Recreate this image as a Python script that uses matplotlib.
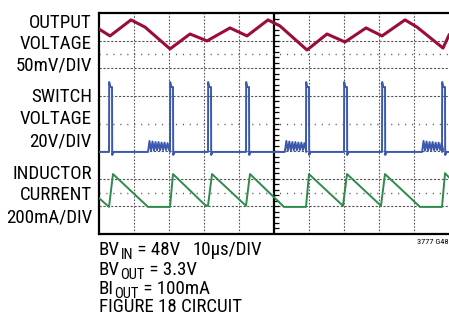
import numpy as np
import matplotlib.pyplot as plt

plt.rcParams['font.family'] = ['Roboto Condensed', 'DejaVu Sans']

# time in us (10us/DIV, 10 divisions), level in divisions from screen bottom (8 divisions)
vout_t = [0, 3.14, 9.14, 13.14, 20.29, 26.0, 30.86, 37.43, 42.29, 48.29, 51.71,
          59.43, 65.14, 70.29, 76.29, 80.86, 87.43, 90.86, 98.29, 100]
vout_div = [7.42, 7.17, 7.75, 7.49, 6.70, 7.24, 6.99, 7.46, 7.17, 7.75, 7.53,
            6.66, 7.24, 6.95, 7.46, 7.17, 7.75, 7.49, 6.73, 7.20]

# switch node: pulse start times, ringing bursts before some pulses
sw_pulse_t = [2.86, 20.29, 31.14, 42.0, 59.14, 70.0, 80.86, 98.0]
sw_pulse_width = 0.86
sw_base = 2.97
sw_top = 5.50
sw_top_after = 5.32
sw_under = 2.86
sw_ring_t = [14.0, 53.1, 92.3]
sw_ring_step = 0.43
sw_ring_shape = [0, 0.40, 0.05, 0.38, 0.05, 0.36, 0.06, 0.36, 0.06, 0.34,
                 0.07, 0.34, 0.07, 0.32, 0.08]

# inductor current
il_t = [0, 2.86, 4.0, 14.0, 20.29, 21.14, 30.29, 31.14, 32.29, 42.0, 43.14,
        52.86, 59.14, 60.0, 69.71, 70.86, 80.57, 81.71, 91.71, 98.0, 98.86, 100]
il_div = [1.30, 0.98, 2.17, 0.98, 0.98, 2.17, 1.05, 1.02, 2.17, 1.02, 2.17,
          0.98, 0.98, 2.17, 1.02, 2.17, 1.02, 2.17, 0.98, 0.98, 2.20, 2.05]

# build switch trace from the events
sw_t = [0]
sw_v = [sw_base]
events = sorted([(t, 'ring') for t in sw_ring_t] + [(t, 'pulse') for t in sw_pulse_t])
for t0, kind in events:
    if kind == 'ring':
        for i, off in enumerate(sw_ring_shape):
            sw_t.append(t0 + i * sw_ring_step)
            sw_v.append(sw_base + off)
    else:
        sw_t += [t0, t0 + 0.05, t0 + 0.35, t0 + sw_pulse_width, t0 + sw_pulse_width + 0.05, t0 + 1.3]
        sw_v += [sw_base, sw_top, sw_top_after, sw_top_after, sw_under, sw_base]
sw_t.append(100)
sw_v.append(sw_base)

W, H = 449, 325
fig = plt.figure(figsize=(W / 100, H / 100), dpi=100)
ax = fig.add_axes([99 / W, (H - 234) / H, 350 / W, 221 / H])
ax.set_xlim(0, 100)
ax.set_ylim(0, 8)
ax.set_xticks([])
ax.set_yticks([])
for s in ['left', 'top', 'bottom']:
    ax.spines[s].set_linewidth(1.6)
ax.spines['right'].set_visible(False)

# graticule
for x in range(10, 100, 10):
    if x == 50:
        ax.axvline(x, color='black', lw=1.6, zorder=1)
    else:
        ax.axvline(x, color='#555555', lw=0.8, ls=(0, (1.5, 1.5)), zorder=1)
for y in [1, 2, 3, 5, 6, 7]:
    ax.axhline(y, color='#555555', lw=0.8, ls=(0, (2, 1.5)), zorder=1)
for y in [1.5, 4, 6.5]:
    ax.axhline(y, color='#555555', lw=1.0, ls=(0, (0.8, 4.2)), zorder=1)
ax.plot(np.full(41, 50.6), np.arange(0, 8.01, 0.2), ls='none', marker='_',
        ms=4, color='black', mew=0.9, zorder=1)

ax.plot(vout_t, vout_div, color='#9B0C3E', lw=2.2, zorder=3)
ax.plot(sw_t, sw_v, color='#3B59AE', lw=1.4, zorder=3)
ax.plot(il_t, il_div, color='#2F8A4C', lw=1.4, zorder=3)


def fy(py):
    return 1 - py / H


fs = 13.6
left_labels = [('OUTPUT', 28), ('VOLTAGE', 49), ('50mV/DIV', 71),
               ('SWITCH', 102), ('VOLTAGE', 124), ('20V/DIV', 146),
               ('INDUCTOR', 179), ('CURRENT', 200), ('200mA/DIV', 222)]
for txt, py in left_labels:
    fig.text(92 / W, fy(py), txt, ha='right', va='baseline', fontsize=fs)

# conditions with subscripts: (main, sub, rest, baseline px)
cond_lines = [('BV', 'IN', ' = 48V', 255),
              ('BV', 'OUT', ' = 3.3V', 275),
              ('BI', 'OUT', ' = 100mA', 294)]
for main, sub, rest, py in cond_lines:
    t1 = fig.text(99 / W, fy(py), main, ha='left', va='baseline', fontsize=fs)
    t2 = fig.add_artist(plt.Annotation(sub, xy=(1, 0), xycoords=t1, xytext=(0.3, -2.2),
                                       textcoords='offset points', va='bottom', fontsize=10.5))
    fig.add_artist(plt.Annotation(rest, xy=(1, 0), xycoords=(t2, t1), va='bottom', fontsize=fs))
fig.text(99 / W, fy(312), 'FIGURE 18 CIRCUIT', ha='left', va='baseline', fontsize=fs)
fig.text(193 / W, fy(255), '10µs/DIV', ha='left', va='baseline', fontsize=fs)
fig.text(449 / W, fy(244), '3777 G48', ha='right', va='baseline', fontsize=6)

fig.savefig('out.png', dpi=100)
